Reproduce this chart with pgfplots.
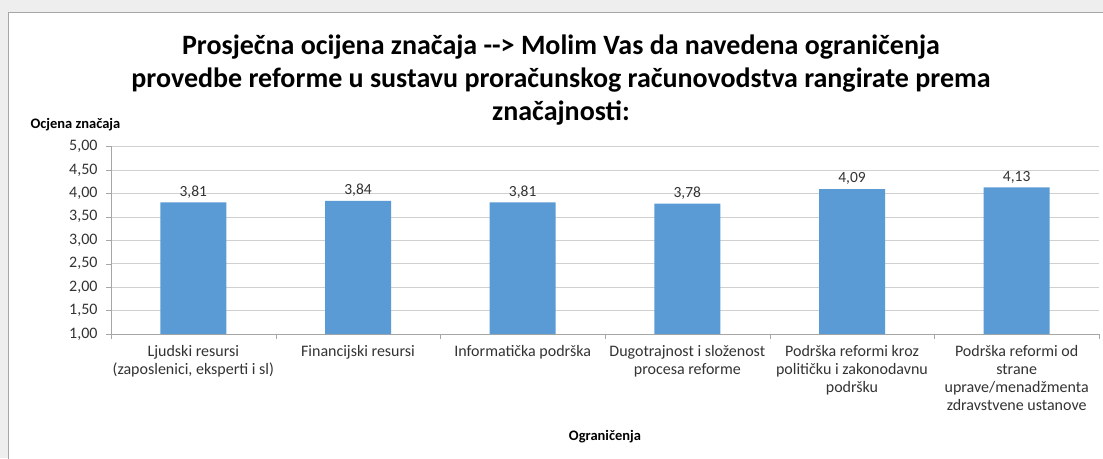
\documentclass[border=0pt]{standalone}
\usepackage{pgfplots}
\pgfplotsset{compat=1.18}
\usepackage{fontspec}
\setmainfont{Carlito}
\definecolor{barblue}{HTML}{5B9BD5}
\definecolor{gridgray}{HTML}{D0D0D0}
\definecolor{axisgray}{HTML}{A6A6A6}
\definecolor{bggray}{HTML}{EEEEEE}
\definecolor{txt}{HTML}{333333}
\begin{document}
\begin{tikzpicture}[x=1pt,y=1pt]
\useasboundingbox (0,0) rectangle (1103,458);
\fill[bggray] (0,0) rectangle (1103,458);
\filldraw[fill=white, draw=axisgray] (8,-5) rectangle (1110,446);
\node[font=\fontsize{28}{33}\selectfont\bfseries, align=center] at (561,378)
  {Prosječna ocijena značaja -{}-> Molim Vas da navedena ograničenja\\
   provedbe reforme u sustavu proračunskog računovodstva rangirate prema\\
   značajnosti:};
\node[font=\fontsize{14.5}{16}\selectfont\bfseries, anchor=west] at (27,333) {Ocjena značaja};
\node[font=\fontsize{14.5}{16}\selectfont\bfseries] at (605,21) {Ograničenja};
\begin{axis}[
  at={(111pt,124pt)}, anchor=south west,
  scale only axis, width=988pt, height=187.5pt,
  ymin=1, ymax=5, ytick={1,1.5,...,5},
  xmin=-0.5, xmax=5.5,
  xtick={-0.5,0.5,...,5.5},
  x tick label as interval,
  xticklabels={{Ljudski resursi\\(zaposlenici, eksperti i sl)},
               {Financijski resursi},
               {Informatička podrška},
               {Dugotrajnost i složenost\\procesa reforme},
               {Podrška reformi kroz\\političku i zakonodavnu\\podršku},
               {Podrška reformi od\\strane\\uprave/menadžmenta\\zdravstvene ustanove}},
  ybar, bar width=66pt, bar shift=0pt,
  axis lines*=left, axis line style={draw=axisgray,-},
  tick pos=left,
  ymajorgrids, grid style={draw=gridgray},
  major tick length=5pt, tick align=outside, tick style={draw=axisgray},
  /pgf/number format/assume math mode=true,
  yticklabel style={font=\fontsize{16}{18}\selectfont, text=txt, xshift=-5pt,
     /pgf/number format/.cd, fixed, fixed zerofill, precision=2, use comma},
  xticklabel style={font=\fontsize{16}{18}\selectfont, text=txt, align=center, anchor=north, yshift=-3pt},
  nodes near coords,
  nodes near coords style={font=\fontsize{15.5}{16}\selectfont, text=txt, inner sep=4pt,
     /pgf/number format/.cd, fixed, fixed zerofill, precision=2, use comma},
]
\addplot[fill=barblue, draw=none] coordinates {(0,3.81) (1,3.84) (2,3.81) (3,3.78) (4,4.09) (5,4.13)};
\end{axis}
\end{tikzpicture}
\end{document}
